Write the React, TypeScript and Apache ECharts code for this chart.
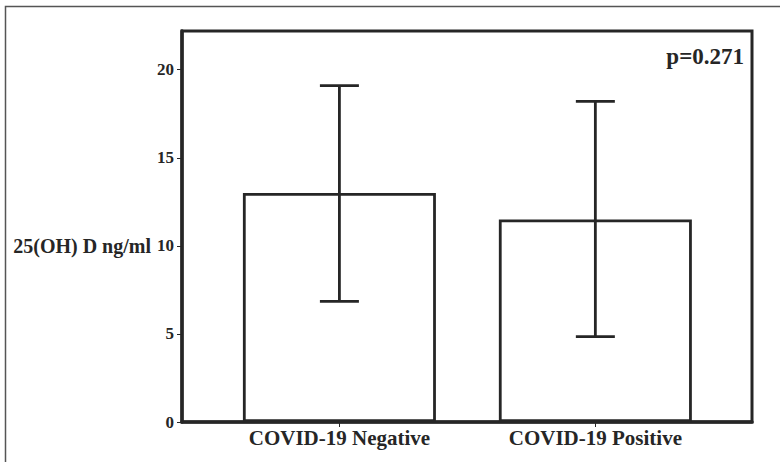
import React, { useEffect, useRef } from "react";
import * as echarts from "echarts";

const categories = ["COVID-19 Negative", "COVID-19 Positive"];
const meanValues = [13.0, 11.5];
const upperValues = [19.1, 18.2];
const lowerValues = [6.85, 4.85];
const yTicks = [0, 5, 10, 15, 20];
const yAxisTitle = "25(OH) D ng/ml";
const pValueText = "p=0.271";

const FONT = "'Liberation Serif', 'Times New Roman', serif";
const INK = "#262626";

export default function App() {
  const ref = useRef<HTMLDivElement>(null);

  useEffect(() => {
    if (!ref.current) return;
    const chart = echarts.init(ref.current, null, { renderer: "svg" });

    const barData = categories.map((_, i) => [i + 1, meanValues[i]]);
    const errData = categories.map((_, i) => [i + 1, lowerValues[i], upperValues[i]]);

    chart.setOption({
      animation: false,
      backgroundColor: "#ffffff",
      grid: {
        left: 182,
        right: 28,
        top: 31,
        bottom: 40,
        show: true,
        borderColor: INK,
        borderWidth: 3,
        backgroundColor: "transparent",
      },
      xAxis: {
        type: "value",
        min: 0.385,
        max: 2.612,
        splitLine: { show: false },
        axisLine: { show: true, onZero: false, lineStyle: { color: INK, width: 3.5 } },
        axisTick: { show: true, customValues: [1, 2], length: 5, lineStyle: { color: INK, width: 1 } },
        axisLabel: {
          show: true,
          customValues: [1, 2],
          formatter: (v: number) => categories[Math.round(v) - 1] ?? "",
          color: INK,
          fontFamily: FONT,
          fontWeight: "bold",
          fontSize: 21,
          margin: 5,
        },
      },
      yAxis: {
        type: "value",
        min: 0,
        max: 22.2,
        interval: 5,
        splitLine: { show: false },
        axisLine: { show: true, lineStyle: { color: INK, width: 3.5 } },
        axisTick: { show: true, length: 5, lineStyle: { color: INK, width: 1 } },
        axisLabel: {
          showMaxLabel: false,
          formatter: (v: number) => (yTicks.includes(v) ? String(v) : ""),
          color: INK,
          fontFamily: FONT,
          fontWeight: "bold",
          fontSize: 17,
          margin: 8,
        },
      },
      graphic: [
        {
          type: "rect",
          shape: { x: 5.5, y: 6.5, width: 780, height: 470 },
          style: { fill: "none", stroke: "#555", lineWidth: 1.5 },
          silent: true,
          z: -10,
        },
        {
          type: "text",
          x: 151,
          y: 246,
          style: {
            text: yAxisTitle,
            fill: INK,
            font: `bold 20px ${FONT}`,
            textAlign: "right",
            textVerticalAlign: "middle",
          },
        },
        {
          type: "text",
          x: 744,
          y: 56,
          style: {
            text: pValueText,
            fill: INK,
            font: `bold 23px ${FONT}`,
            textAlign: "right",
            textVerticalAlign: "middle",
          },
        },
      ],
      series: [
        {
          type: "bar",
          data: barData,
          barWidth: 193,
          itemStyle: { color: "#ffffff", borderColor: INK, borderWidth: 2.8 },
          z: 2,
        },
        {
          type: "custom",
          data: errData,
          z: 3,
          renderItem: (params: any, api: any) => {
            const x = api.value(0);
            const lo = api.coord([x, api.value(1)]);
            const hi = api.coord([x, api.value(2)]);
            const half = 19.5;
            const style = { stroke: INK, lineWidth: 2.8, fill: "none" };
            return {
              type: "group",
              children: [
                { type: "line", shape: { x1: lo[0], y1: lo[1], x2: hi[0], y2: hi[1] }, style },
                { type: "line", shape: { x1: hi[0] - half, y1: hi[1], x2: hi[0] + half, y2: hi[1] }, style },
                { type: "line", shape: { x1: lo[0] - half, y1: lo[1], x2: lo[0] + half, y2: lo[1] }, style },
              ],
            };
          },
        },
      ],
    });

    return () => chart.dispose();
  }, []);

  return (
    <div
      ref={ref}
      style={{ position: "fixed", left: 0, top: 0, width: 780, height: 462, background: "#fff" }}
    />
  );
}
